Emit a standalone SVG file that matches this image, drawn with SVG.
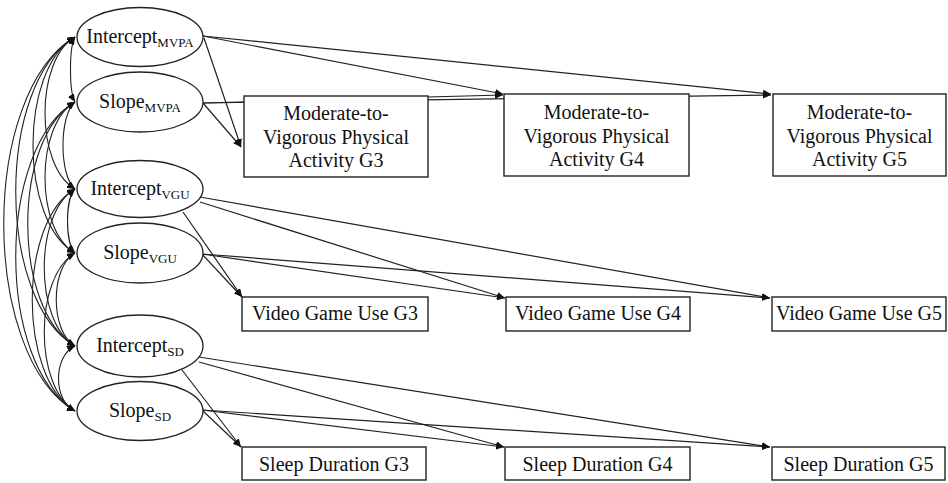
<svg xmlns="http://www.w3.org/2000/svg" width="948" height="483" viewBox="0 0 948 483">
<style>
  .lat { fill: #fff; stroke: #222; stroke-width: 1.3; }
  .box { fill: #fff; stroke: #222; stroke-width: 1.4; }
  .t { font-family: "Liberation Serif", "Times New Roman", serif; font-size: 20px; fill: #111; text-anchor: middle; }
  .sub { font-size: 13px; }
  .e { fill: none; stroke: #222; stroke-width: 1.2; marker-end: url(#ah); }
  .c { fill: none; stroke: #222; stroke-width: 1.1; marker-start: url(#ah); marker-end: url(#ah); }
</style>
<defs>
  <marker id="ah" viewBox="0 0 8 7" refX="8" refY="3.5" markerWidth="8" markerHeight="7" markerUnits="userSpaceOnUse" orient="auto-start-reverse">
    <path d="M0,0 L8,3.5 L0,7 z" fill="#111"/>
  </marker>
</defs>
<rect width="948" height="483" fill="#fff"/>

<g id="connectors">
  <!-- covariances -->
  <path class="c" d="M75,37 C69,47 69,92 75,102"/>
  <path class="c" d="M75,37 C35,60 35,166 75,189"/>
  <path class="c" d="M75,37 C19,69 19,221 75,253"/>
  <path class="c" d="M75,37 C-4,83 -4,300 75,346"/>
  <path class="c" d="M75,37 C-20,93 -20,355 75,411"/>
  <path class="c" d="M75,102 C59,115 59,176 75,189"/>
  <path class="c" d="M75,102 C35,125 35,230 75,253"/>
  <path class="c" d="M75,102 C12,139 12,309 75,346"/>
  <path class="c" d="M75,102 C-4,148 -4,365 75,411"/>
  <path class="c" d="M75,189 C65,199 65,243 75,253"/>
  <path class="c" d="M75,189 C34,213 34,322 75,346"/>
  <path class="c" d="M75,189 C18,222 18,378 75,411"/>
  <path class="c" d="M75,253 C50,267 50,332 75,346"/>
  <path class="c" d="M75,253 C34,277 34,387 75,411"/>
  <path class="c" d="M75,346 C53,356 53,401 75,411"/>
  <!-- MVPA loadings -->
  <path class="e" d="M204,38 L241,147"/>
  <path class="e" d="M203,103 L241,147"/>
  <path class="e" d="M203,36 L503,94"/>
  <path class="e" d="M203,36 L771,94"/>
  <path class="e" d="M203,103 L503,95"/>
  <path class="e" d="M203,103 L771,95"/>
  <!-- VGU loadings -->
  <path class="e" d="M183,212 L242,297"/>
  <path class="e" d="M202,254 L242,297"/>
  <path class="e" d="M200,202 L505,298"/>
  <path class="e" d="M200,197 L770,298"/>
  <path class="e" d="M202,254 L505,298"/>
  <path class="e" d="M202,254 L770,298"/>
  <!-- SD loadings -->
  <path class="e" d="M182,370 L241,447"/>
  <path class="e" d="M202,410 L241,447"/>
  <path class="e" d="M199,362 L504,447"/>
  <path class="e" d="M199,357 L770,447"/>
  <path class="e" d="M202,410 L504,447"/>
  <path class="e" d="M202,410 L770,447"/>
</g>

<g id="intercept_mvpa"><ellipse class="lat" cx="140" cy="37" rx="63" ry="29.5"/><text class="t" x="140" y="43">Intercept<tspan class="sub" dy="4">MVPA</tspan></text></g>
<g id="slope_mvpa"><ellipse class="lat" cx="140" cy="102" rx="63" ry="30"/><text class="t" x="140" y="108">Slope<tspan class="sub" dy="4">MVPA</tspan></text></g>
<g id="intercept_vgu"><ellipse class="lat" cx="140" cy="189" rx="63" ry="28.5"/><text class="t" x="140" y="195">Intercept<tspan class="sub" dy="4">VGU</tspan></text></g>
<g id="slope_vgu"><ellipse class="lat" cx="140" cy="253" rx="63" ry="30"/><text class="t" x="140" y="259">Slope<tspan class="sub" dy="4">VGU</tspan></text></g>
<g id="intercept_sd"><ellipse class="lat" cx="140" cy="346" rx="63" ry="31"/><text class="t" x="140" y="352">Intercept<tspan class="sub" dy="4">SD</tspan></text></g>
<g id="slope_sd"><ellipse class="lat" cx="140" cy="411" rx="63" ry="29.5"/><text class="t" x="140" y="417">Slope<tspan class="sub" dy="4">SD</tspan></text></g>

<g id="mvpa_g3"><rect class="box" x="244" y="96" width="184" height="81"/><text class="t" x="336" y="120">Moderate-to-</text><text class="t" x="336" y="144">Vigorous Physical</text><text class="t" x="336" y="167">Activity G3</text></g>
<g id="mvpa_g4"><rect class="box" x="504" y="94" width="185" height="82"/><text class="t" x="596.5" y="119">Moderate-to-</text><text class="t" x="596.5" y="143">Vigorous Physical</text><text class="t" x="596.5" y="166">Activity G4</text></g>
<g id="mvpa_g5"><rect class="box" x="773" y="94" width="173" height="82"/><text class="t" x="859.5" y="119">Moderate-to-</text><text class="t" x="859.5" y="143">Vigorous Physical</text><text class="t" x="859.5" y="166">Activity G5</text></g>

<g id="vgu_g3"><rect class="box" x="242" y="297" width="186" height="34"/><text class="t" x="335" y="320">Video Game Use G3</text></g>
<g id="vgu_g4"><rect class="box" x="506" y="297" width="184" height="34"/><text class="t" x="598" y="320">Video Game Use G4</text></g>
<g id="vgu_g5"><rect class="box" x="772" y="297" width="174" height="34"/><text class="t" x="859" y="320">Video Game Use G5</text></g>

<g id="sd_g3"><rect class="box" x="242" y="447" width="184" height="33"/><text class="t" x="334" y="471">Sleep Duration G3</text></g>
<g id="sd_g4"><rect class="box" x="505" y="447" width="185" height="33"/><text class="t" x="597.5" y="471">Sleep Duration G4</text></g>
<g id="sd_g5"><rect class="box" x="772" y="447" width="173" height="33"/><text class="t" x="858.5" y="471">Sleep Duration G5</text></g>
</svg>
